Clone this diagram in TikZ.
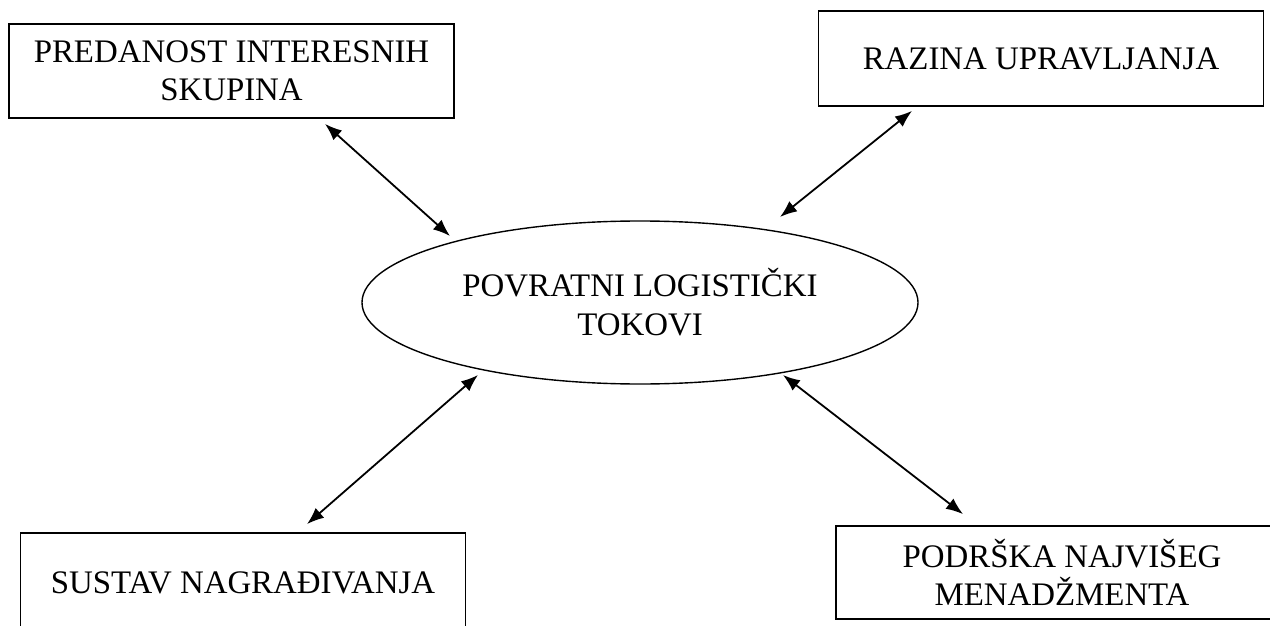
\documentclass[tikz,border=0pt]{standalone}
\usepackage{fontspec}
\setmainfont{Liberation Serif}
\usetikzlibrary{calc}
\usetikzlibrary{arrows.meta}
\usetikzlibrary{shapes.geometric}

\tikzset{
  faktor/.style={draw, line width=0.9pt, align=center, inner sep=0pt,
    minimum width=222.5bp, minimum height=47bp, font=\fontsize{16.5}{19}\selectfont},
  tok/.style={draw, ellipse, line width=0.7pt, align=center, inner sep=0pt,
    minimum width=278bp, minimum height=81.5bp, font=\fontsize{16.5}{19.5}\selectfont},
  veza/.style={line width=0.9pt, {Latex[length=8.5bp,width=6.5bp]}-{Latex[length=8.5bp,width=6.5bp]}}
}

\begin{document}
\begin{tikzpicture} [x=0.5bp, y=-0.5bp]
\useasboundingbox (0,0) rectangle (1270,626);
\node[tok] (povr) at (640,302.5) {\raisebox{-2bp}{POVRATNI LOGISTIČKI}\\\raisebox{-2bp}{TOKOVI}};
\node[faktor] (pred) at (231.5,71) {PREDANOST INTERESNIH\\SKUPINA};
\node[faktor, minimum height=47.5bp] (raz) at (1041,58.5) {RAZINA UPRAVLJANJA};
\node[faktor, minimum height=50bp] (nag) at (243,583) {SUSTAV NAGRAĐIVANJA};
\node[faktor, minimum width=226bp, minimum height=46.5bp] (pod) at (1062,572.5) {\raisebox{-1.5bp}{PODRŠKA NAJVIŠEG}\\\raisebox{-1.5bp}{MENADŽMENTA}};
% veze prema sredini
\draw[veza] ($(pred.south)+(93.5,5)$) -- ($(povr)+(-190,-66.5)$);
\draw[veza] ($(raz.south)+(-129,4)$) -- ($(povr)+(140,-85.5)$);
\draw[veza] ($(povr)+(-162,72.5)$) -- ($(nag.north)+(64,-8)$);
\draw[veza] ($(povr)+(143,72.5)$) -- ($(pod.north)+(-99,-11)$);
\end{tikzpicture}
\end{document}
